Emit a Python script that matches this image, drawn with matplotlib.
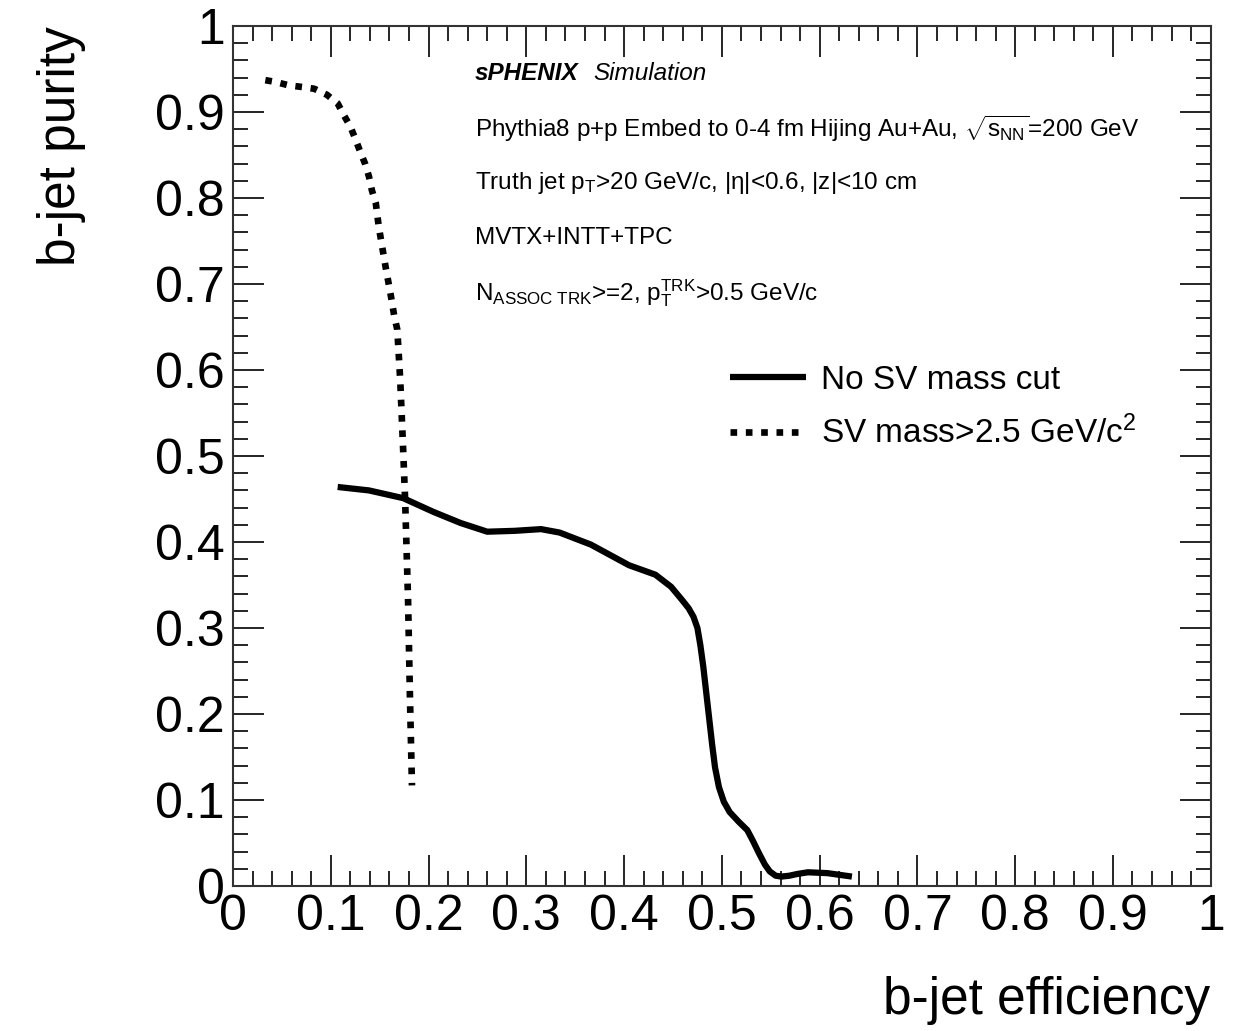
import numpy as np
import matplotlib
matplotlib.use('Agg')
import matplotlib.pyplot as plt
from matplotlib.ticker import MultipleLocator

plt.rcParams['font.family'] = ['Liberation Sans', 'DejaVu Sans']
plt.rcParams['mathtext.fontset'] = 'custom'
plt.rcParams['mathtext.rm'] = 'Liberation Sans'
plt.rcParams['mathtext.it'] = 'Liberation Sans:italic'
plt.rcParams['mathtext.bf'] = 'Liberation Sans:bold'

# No SV mass cut
eff_nocut = [0.107, 0.139, 0.174, 0.205, 0.233, 0.260, 0.288, 0.315, 0.334,
             0.366, 0.405, 0.432, 0.448, 0.459, 0.466, 0.471, 0.475, 0.478,
             0.481, 0.484, 0.487, 0.490, 0.493, 0.497, 0.502, 0.508, 0.517,
             0.526, 0.532, 0.538, 0.544, 0.549, 0.555, 0.561, 0.569, 0.577,
             0.588, 0.608, 0.633]
pur_nocut = [0.464, 0.460, 0.451, 0.435, 0.422, 0.412, 0.413, 0.415, 0.411,
             0.397, 0.373, 0.362, 0.348, 0.333, 0.323, 0.313, 0.300, 0.280,
             0.255, 0.225, 0.195, 0.165, 0.138, 0.115, 0.098, 0.086, 0.075,
             0.065, 0.052, 0.038, 0.025, 0.017, 0.012, 0.011, 0.012, 0.014,
             0.016, 0.015, 0.011]

# SV mass > 2.5 GeV/c^2
eff_mcut = [0.033, 0.043, 0.057, 0.071, 0.083, 0.096, 0.107, 0.113, 0.120,
            0.125, 0.130, 0.135, 0.139, 0.142, 0.146, 0.149, 0.153, 0.156,
            0.161, 0.165, 0.168, 0.171, 0.174, 0.176, 0.179, 0.181, 0.183]
pur_mcut = [0.937, 0.935, 0.931, 0.929, 0.927, 0.920, 0.910, 0.897, 0.883,
            0.869, 0.854, 0.840, 0.825, 0.809, 0.794, 0.767, 0.740, 0.720,
            0.689, 0.662, 0.647, 0.588, 0.507, 0.449, 0.333, 0.216, 0.117]

labels = ['No SV mass cut', 'SV mass>2.5 GeV/c$^2$']

info = ['Phythia8 p+p Embed to 0-4 fm Hijing Au+Au, $\\sqrt{\\mathrm{s_{NN}}}$=200 GeV',
        'Truth jet p$_\\mathrm{T}$>20 GeV/c, |$\\mathrm{\\eta}$|<0.6, |z|<10 cm',
        'MVTX+INTT+TPC',
        'N$_\\mathrm{ASSOC\\ TRK}$>=2, p$_\\mathrm{T}^\\mathrm{TRK}$>0.5 GeV/c']

fig = plt.figure(figsize=(12.43, 10.31), dpi=100)
ax = fig.add_axes([0.1875, 0.1406, 0.7865, 0.8342])

ax.plot(eff_nocut, pur_nocut, color='black', lw=4.5, solid_capstyle='butt',
        solid_joinstyle='round', label=labels[0])
ax.plot(eff_mcut, pur_mcut, color='black', lw=4.8, dashes=(1.0, 1.3),
        dash_capstyle='butt', label=labels[1])

ax.set_xlim(0, 1)
ax.set_ylim(0, 1)
ax.xaxis.set_major_locator(MultipleLocator(0.1))
ax.xaxis.set_minor_locator(MultipleLocator(0.02))
ax.yaxis.set_major_locator(MultipleLocator(0.1))
ax.yaxis.set_minor_locator(MultipleLocator(0.02))
fmt = lambda v, p: ('%g' % round(v, 2))
ax.xaxis.set_major_formatter(plt.FuncFormatter(fmt))
ax.yaxis.set_major_formatter(plt.FuncFormatter(fmt))
ax.tick_params(which='both', direction='in', top=True, right=True,
               labelsize=36, width=1.2, colors='black')
ax.tick_params(which='major', length=22)
ax.tick_params(which='minor', length=11)
ax.tick_params(axis='x', pad=6)
ax.tick_params(axis='y', pad=6)
for s in ax.spines.values():
    s.set_linewidth(1.5)
    s.set_color('#333333')

ax.set_xlabel('b-jet efficiency', fontsize=37, loc='right', labelpad=26)
ax.set_ylabel('b-jet purity', fontsize=37, loc='top', labelpad=50)

ax.text(0.247, 0.945, 'sPHENIX', transform=ax.transAxes, fontsize=17.5,
        fontweight='bold', fontstyle='italic', va='center')
ax.text(0.368, 0.945, 'Simulation', transform=ax.transAxes, fontsize=17.5,
        fontstyle='italic', va='center')
for i, t in enumerate(info):
    ax.text(0.247, 0.881 - 0.0637 * i, t, transform=ax.transAxes,
            fontsize=17.5, va='center')

ax.legend(loc='upper left', bbox_to_anchor=(0.508, 0.606), frameon=False,
          fontsize=24, handlelength=2.3, handletextpad=0.45,
          labelspacing=0.6, borderpad=0, borderaxespad=0)

fig.savefig('out.png', dpi=100)
